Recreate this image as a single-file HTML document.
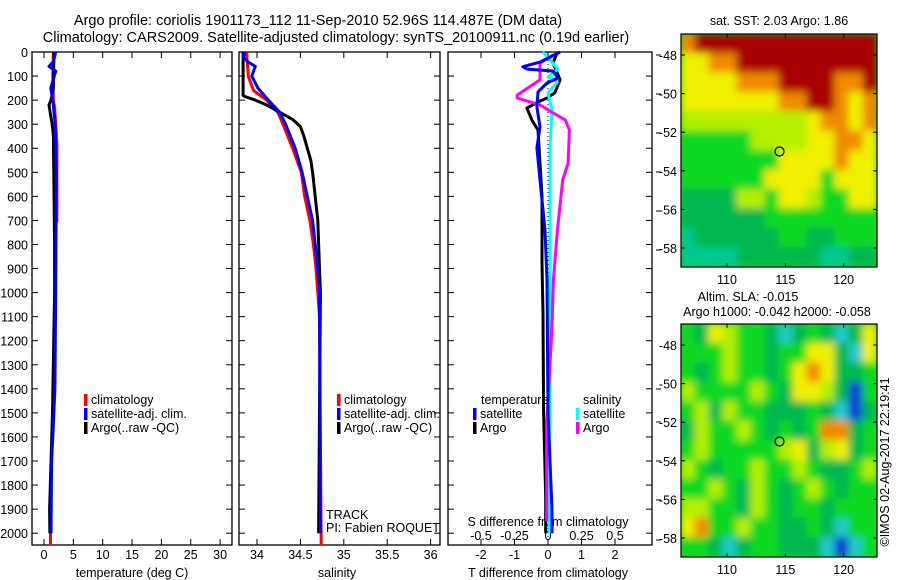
<!DOCTYPE html>
<html><head><meta charset="utf-8"><style>
body{margin:0;background:#fff}
svg{display:block;font-family:"Liberation Sans",sans-serif}
text{fill:#000}
</style></head><body>
<svg id="fig" width="900" height="580" viewBox="0 0 900 580" xmlns="http://www.w3.org/2000/svg">
<defs>
<filter id="blur1" filterUnits="userSpaceOnUse" x="671" y="24" width="216" height="253"><feGaussianBlur stdDeviation="4"/></filter>
<filter id="blur2" filterUnits="userSpaceOnUse" x="671" y="314" width="216" height="253"><feGaussianBlur stdDeviation="4"/></filter>
<clipPath id="clip1"><rect x="681" y="34" width="196" height="233"/></clipPath>
<clipPath id="clip2"><rect x="681" y="324" width="196" height="233"/></clipPath>
</defs>
<text x="318" y="25" font-size="14.5" text-anchor="middle">Argo profile: coriolis 1901173_112 11-Sep-2010 52.96S 114.487E (DM data)</text>
<text x="336" y="42" font-size="14.5" text-anchor="middle">Climatology: CARS2009. Satellite-adjusted climatology: synTS_20100911.nc (0.19d earlier)</text>
<g id="g"></g>
</svg>
<script>
// ---------- data ----------
const depthTicks=[0,100,200,300,400,500,600,700,800,900,1000,1100,1200,1300,1400,1500,1600,1700,1800,1900,2000];
const tempTicks=[0,5,10,15,20,25,30];
const salTicks=[34,34.5,35,35.5,36];
const salTickLabels=["34","34.5","35","35.5","36"];
const tdiffTicks=[-2,-1,0,1,2];
const sdiffTicks=[-0.5,-0.25,0,0.25,0.5];
const sdiffTickLabels=["-0.5","-0.25","0","0.25","0.5"];
// temperature profiles
const tClimDepth=[0,100,200,230,300,380,500,700,720,1000,1400,1600,1800,2000,2050];
const tClimVal=[1.6,1.5,1.6,1.8,2.0,2.2,2.2,2.2,1.9,1.9,1.6,1.4,1.2,1.1,1.1];
const tSatDepth=[0,40,60,80,150,200,300,500,1000,1400,1600,1700,2000];
const tSatVal=[2.0,1.6,0.85,2.0,1.15,1.5,1.9,2.1,2.0,1.85,1.5,1.3,1.2];
const tArgoDepth=[0,150,200,220,260,300,350,800,1000,1500,1900,2000];
const tArgoVal=[1.7,1.6,1.2,0.85,1.1,1.4,1.6,1.8,1.8,1.45,0.95,1.0];
// salinity profiles
const sArgoDepth=[0,180,185,200,220,250,280,310,350,400,450,500,600,700,900,1000,2000];
const sArgoVal=[33.84,33.84,33.86,33.98,34.11,34.26,34.41,34.5,34.54,34.58,34.62,34.64,34.67,34.70,34.72,34.73,34.71];
const sClimDepth=[0,100,160,200,250,300,400,500,600,700,800,900,1000,1100,2050];
const sClimVal=[33.88,33.9,33.96,34.11,34.24,34.3,34.41,34.51,34.55,34.61,34.65,34.68,34.70,34.72,34.74];
const sSatDepth=[0,20,40,60,100,150,200,250,300,400,500,600,700,800,900,1000,2000];
const sSatVal=[33.87,33.84,33.89,33.98,33.94,34.01,34.13,34.26,34.33,34.44,34.52,34.58,34.64,34.67,34.70,34.72,34.73];
// differences
const dTSatDepth=[0,42,61,71,79,108,129,166,229,311,399,532,740,948,1500,1900,2000];
const dTSatVal=[0.36,-0.24,-0.75,-0.63,0.15,0.3,-0.03,-0.3,-0.33,-0.24,-0.33,-0.24,-0.09,-0.03,0,0.12,0.12];
const dTArgoDepth=[5,46,61,116,170,191,208,233,283,324,462,602,878,1086,1500,1850,2000];
const dTArgoVal=[0.27,0.15,0.2,0.36,0.2,-0.03,-0.3,-0.63,-0.48,-0.3,-0.24,-0.18,-0.18,-0.15,-0.13,-0.07,-0.07];
const dSSatDepth=[0,42,71,104,125,170,241,395,740,1155,2000];
const dSSatVal=[-0.04,0.03,0.075,0,0.07,0,0.03,0.015,0.015,0.015,0.01];
const dSArgoDepth=[12,46,116,179,191,220,254,283,324,462,532,740,948,1143,1550,1950];
const dSArgoVal=[0.04,-0.06,-0.06,-0.23,-0.23,-0.06,0.04,0.13,0.16,0.15,0.11,0.07,0.04,0.03,-0.01,-0.01];
// maps (14 cols x 12 rows)
const sstGrid=["ORRRRRRRRRRRRR","YYOORRRRRRRRRR","YYYYOOORRRROOR","YYYYYYYOORROYO","LLLLLLLLLYOOYO","GGGGGLLLLYYOOY","GGGGGGGYYYYOYY","GGGGGGYYYYGYYY","ggggLLGYYLGGYY","ggggggGGGGGGGG","TggggggGGggGGG","TTTTggggggTTgg"];
const slaGrid=["GgYLGGgCgGgCgY","GGGLGGgGGYYgCY","GgGLGGgGYOYggG","LGGGGLGgYYLgBG","GLgLGGgggGgCBg","gLGGLGgGgGOOgG","GLGGGGGLYgLYgG","LGgGGLGGLGggGL","GGLGgLGgGLGgGG","LLGGgLGgGGgGGG","YOGGLGGggGgCGG","GGgCgGGgggCBCG"];
const mapColors={R:"#a80000",O:"#f08a00",Y:"#f0f000",L:"#b4f000",G:"#10d820",g:"#00b850",T:"#00c890",C:"#20c8c8",B:"#1040d0"};
const lonTicks=[110,115,120];
const latTicks=[-48,-50,-52,-54,-56,-58];
const argoLon=114.5, argoLat=-53;

// ---------- helpers ----------
const NS="http://www.w3.org/2000/svg";
const G=document.getElementById('g');
function el(tag,attrs,parent){const e=document.createElementNS(NS,tag);for(const k in attrs)e.setAttribute(k,attrs[k]);(parent||G).appendChild(e);return e;}
function txt(x,y,s,size,anchor,parent){const t=el('text',{x:x,y:y,'font-size':size||12,'text-anchor':anchor||'middle'},parent);t.textContent=s;return t;}
const yD=d=>52+0.2406*d;
const xT=t=>44+5.87*t;
const xS=s=>257+86.8*(s-34);
const xDT=v=>548+33.5*v;
const xDS=v=>548+134*v;
const Y0=52,Y1=545;

function panel(x0,x1,name){
  const r=el('rect',{x:x0,y:Y0,width:x1-x0,height:Y1-Y0,fill:'none',stroke:'#000','stroke-width':1.3});
  
  
  depthTicks.forEach(d=>{
    el('line',{x1:x0,x2:x0+6,y1:yD(d),y2:yD(d),stroke:'#000'});
    el('line',{x1:x1,x2:x1-6,y1:yD(d),y2:yD(d),stroke:'#000'});
  });
}
function xticks(vals,fx,labels,ly){
  vals.forEach((v,i)=>{const x=fx(v);
    el('line',{x1:x,x2:x,y1:Y0,y2:Y0+6,stroke:'#000'});
    el('line',{x1:x,x2:x,y1:Y1,y2:Y1-6,stroke:'#000'});
    const t=txt(x,ly,labels?labels[i]:String(v),12.5);
    
    
  });
}
function line(depths,vals,fx,color,name,w){
  const pts=depths.map((d,i)=>fx(vals[i]).toFixed(1)+','+yD(d).toFixed(1)).join(' ');
  const p=el('polyline',{points:pts,fill:'none',stroke:color,'stroke-width':w||3,'stroke-linejoin':'round'});
  
  
}
function legend(x,y,color,label){
  const r=el('rect',{x:x,y:y-10,width:3.5,height:12,fill:color});
  
  
  const t=txt(x+7,y,label,12.5,'start');
  
  
}

// ---------- panel 1: temperature ----------
panel(32,232,'temperature-panel');
depthTicks.forEach(d=>{const t=txt(28,yD(d)+5,String(d),12.5,'end');
  
  });
xticks(tempTicks,xT,null,559);
let a=txt(132,577,'temperature (deg C)',12.5);
line(tClimDepth,tClimVal,xT,'#ff0000','temp-climatology-line');
line(tArgoDepth,tArgoVal,xT,'#000','temp-argo-line');
line(tSatDepth,tSatVal,xT,'#0000ff','temp-satellite-line');
legend(84,404,'#ff0000','climatology');
legend(84,418,'#0000ff','satellite-adj. clim.');
legend(84,432,'#000','Argo(..raw -QC)');

// ---------- panel 2: salinity ----------
panel(239,440,'salinity-panel');
xticks(salTicks,xS,salTickLabels,559);
a=txt(337,577,'salinity',12.5);
line(sClimDepth,sClimVal,xS,'#ff0000','sal-climatology-line');
line(sArgoDepth,sArgoVal,xS,'#000','sal-argo-line');
line(sSatDepth,sSatVal,xS,'#0000ff','sal-satellite-line');
legend(337,404,'#ff0000','climatology');
legend(337,418,'#0000ff','satellite-adj. clim.');
legend(337,432,'#000','Argo(..raw -QC)');
a=txt(326,519,'TRACK',12.5,'start');
a=txt(326,532,'PI: Fabien ROQUET',12.5,'start');

// ---------- panel 3: differences ----------
panel(448,652,'difference-panel');
el('line',{x1:548,x2:548,y1:Y0,y2:Y1,stroke:'#000','stroke-dasharray':'1,3'});
xticks(tdiffTicks,xDT,null,559);
sdiffTicks.forEach((v,i)=>{const t=txt(xDS(v),540,sdiffTickLabels[i],12.5);
  });
a=txt(548,526,'S difference from climatology',12.5);
a=txt(548,577,'T difference from climatology',12.5);
[55,94,133,172,211,250,389,422,461,500,540].forEach(y=>el('line',{x1:656,x2:661,y1:y,y2:y,stroke:'#000'}));
line(dTArgoDepth,dTArgoVal,xDT,'#000','tdiff-argo-line');
line(dSSatDepth,dSSatVal,xDS,'#00ffff','sdiff-satellite-line');
line(dSArgoDepth,dSArgoVal,xDS,'#ff00ff','sdiff-argo-line');
line(dTSatDepth,dTSatVal,xDT,'#0000ff','tdiff-satellite-line');
a=txt(481,404,'temperature',12.5,'start');
a=txt(583,404,'salinity',12.5,'start');
legend(473,418,'#0000ff','satellite');
legend(576,418,'#00ffff','satellite');
legend(473,432,'#000','Argo');
legend(576,432,'#ff00ff','Argo');

// ---------- maps ----------
const MX0=681,MX1=877;
const xLon=l=>727+11.67*(l-110);
function drawMap(grid,top,clip,blur,name){
  const h=233, rows=grid.length, cols=grid[0].length;
  const cw=(MX1-MX0)/cols, ch=h/rows;
  const g=el('g',{'clip-path':'url(#'+clip+')'});
  
  
  el('rect',{x:MX0,y:top,width:MX1-MX0,height:h,fill:mapColors.G},g);
  const inner=el('g',{filter:'url(#'+blur+')'},g);
  grid.forEach((row,r)=>{[...row].forEach((c,i)=>{
    const cell=el('rect',{x:MX0+i*cw-0.5,y:top+r*ch-0.5,width:cw+1,height:ch+1,fill:mapColors[c]},inner);
    
    
  });});
  el('rect',{x:MX0,y:top,width:MX1-MX0,height:h,fill:'none',stroke:'#000','stroke-width':1.2});
  const yLat=l=>top+21+19.3*(-48-l);
  latTicks.forEach(l=>{const y=yLat(l);
    el('line',{x1:MX0,x2:MX0+4,y1:y,y2:y,stroke:'#000'});
    el('line',{x1:MX1,x2:MX1-4,y1:y,y2:y,stroke:'#000'});
    const t=txt(677,y+5,String(l),12.5,'end');});
  lonTicks.forEach(l=>{const x=xLon(l);
    el('line',{x1:x,x2:x,y1:top,y2:top+4,stroke:'#000'});
    el('line',{x1:x,x2:x,y1:top+h,y2:top+h-4,stroke:'#000'});
    const t=txt(x,top+h+17,String(l),12.5);});
  const c=el('circle',{cx:xLon(argoLon),cy:yLat(argoLat),r:4.5,fill:'none',stroke:'#000','stroke-width':1.2});
  
  
}
drawMap(sstGrid,34,'clip1','blur1','sst-map');
drawMap(slaGrid,324,'clip2','blur2','sla-map');
a=txt(779,25,'sat. SST: 2.03 Argo: 1.86',12.5);
a=txt(748,301,'Altim. SLA: -0.015',12.5);
a=txt(777,316,'Argo h1000: -0.042 h2000: -0.058',12.5);
a=txt(0,0,'©IMOS 02-Aug-2017 22:19:41',12.5);
a.setAttribute('transform','translate(889,462) rotate(-90)');

</script>
</body></html>
